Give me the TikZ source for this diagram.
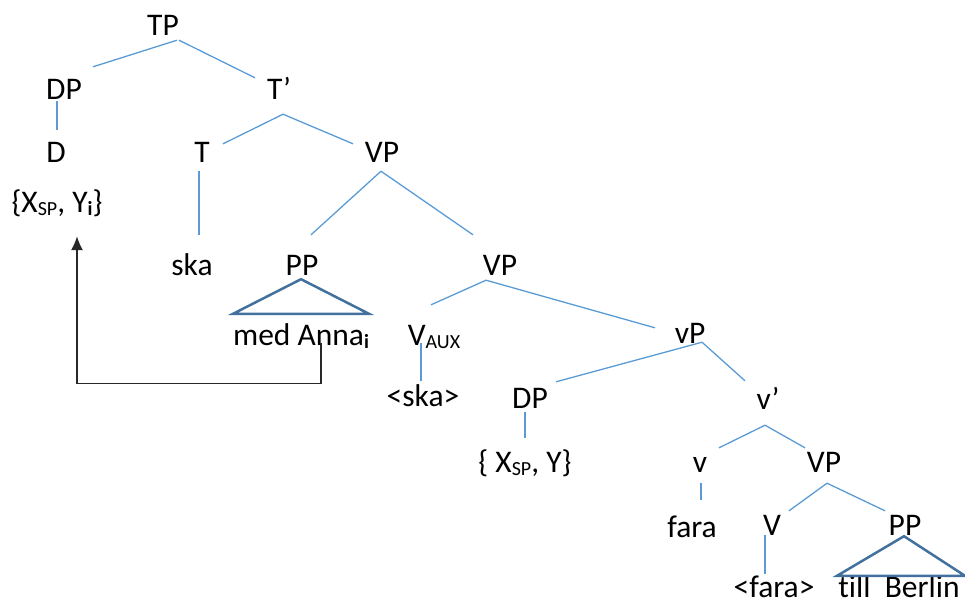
\documentclass[tikz,border=0pt]{standalone}
\usepackage{fontspec}
\setmainfont{Carlito}[Ligatures=NoCommon]
\usepackage{tikz}
\usetikzlibrary{arrows.meta}
\definecolor{brclr}{RGB}{91,155,213}
\definecolor{triclr}{RGB}{65,113,156}
\definecolor{movclr}{RGB}{40,40,40}
\newcommand{\treefont}{\fontsize{31.5}{36}\selectfont}
\newcommand{\lo}[1]{\raisebox{-0.12em}{\fontsize{20}{21}\selectfont #1}}
\tikzset{ %
  ,>={Latex[length=14pt,width=12pt]}
  ,every node/.style={font=\treefont}
  ,lbl/.style={anchor=base, inner sep=0, text height=20pt, text depth=0pt}
  ,branch/.style={draw=brclr, line width=1.3pt}
  ,tri/.style={draw=triclr, line width=2.5pt, line join=miter}
  ,move/.style={draw=movclr, line width=1.3pt, ->}
}

\begin{document}
\begin{tikzpicture}[x=1pt, y=-1pt]
      \useasboundingbox (0,0) rectangle (965,603);
      \draw 
      node[lbl] (TP) at (163,35) {TP}
      node[lbl] (DP) at (64,99) {DP}
      node[lbl] (Tbar) at (279,99) {T’}
      node[lbl] (D) at (56,162) {D}
      node[lbl] (T) at (202,162) {T}
      node[lbl] (VP) at (382,162) {VP}
      node[lbl] (Dset) at (57,212) {\{X\lo{SP}, Y\lo{\textbf{i}}\}}
      node[lbl] (ska) at (192,275) {ska}
      node[lbl] (PP) at (302,275) {PP}
      node[lbl] (VPb) at (500,275) {VP}
      node[lbl] (Anna) at (301,345) {med Anna\lo{\textbf{i}}}
      node[lbl] (Vaux) at (434,345) {V\lo{AUX}}
      node[lbl] (skab) at (423,406) {<ska>}
      node[lbl] (DPb) at (530,408) {DP}
      node[lbl] (vP) at (690,343) {vP}
      node[lbl] (vbar) at (768,409) {v’}
      node[lbl] (Dsetb) at (525,472) {\{ X\lo{SP}, Y\}}
      node[lbl] (v) at (700,472) {v}
      node[lbl] (VPc) at (824,472) {VP}
      node[lbl] (fara) at (692,537) {fara}
      node[lbl] (V) at (772,535) {V}
      node[lbl] (PPb) at (905,535) {PP}
      node[lbl] (farab) at (774,597) {<fara>}
      node[lbl] (Berlin) at (899,597) {till~~Berlin};
      % branches
      \draw [branch] ([shift={(14,5)}]TP.south) -- ([shift={(29,-12)}]DP.north);
      \draw [branch] ([shift={(16,5)}]TP.south) -- ([shift={(-24,-1)}]Tbar.north);
      \draw [branch] ([shift={(-7,2)}]DP.south) -- ([shift={(1,-12)}]D.north);
      \draw [branch] ([shift={(4,15)}]Tbar.south) -- ([shift={(21,2)}]T.north);
      \draw [branch] ([shift={(4,15)}]Tbar.south) -- ([shift={(-29,2)}]VP.north);
      \draw [branch] ([shift={(-3,9)}]T.south) -- ([shift={(7,-20)}]ska.north);
      \draw [branch] ([shift={(-1,9)}]VP.south) -- ([shift={(9,-20)}]PP.north);
      \draw [branch] ([shift={(-1,9)}]VP.south) -- ([shift={(-27,-20)}]VPb.north);
      \draw [branch] ([shift={(-14,5)}]VPb.south) -- ([shift={(-3,-20)}]Vaux.north);
      \draw [branch] ([shift={(-14,5)}]VPb.south) -- ([shift={(-35,5)}]vP.north);
      \draw [branch] ([shift={(-13,-2)}]Vaux.south) -- ([shift={(-2,-5)}]skab.north);
      \draw [branch] ([shift={(12,-1)}]vP.south) -- ([shift={(26,-6)}]DPb.north);
      \draw [branch] ([shift={(12,-1)}]vP.south) -- ([shift={(-23,-8)}]vbar.north);
      \draw [branch] ([shift={(-5,4)}]DPb.south) -- ([shift={(0,-14)}]Dsetb.north);
      \draw [branch] ([shift={(-3,16)}]vbar.south) -- ([shift={(19,-4)}]v.north);
      \draw [branch] ([shift={(-3,16)}]vbar.south) -- ([shift={(-19,-4)}]VPc.north);
      \draw [branch] ([shift={(1,11)}]v.south) -- ([shift={(9,-17)}]fara.north);
      \draw [branch] ([shift={(3,11)}]VPc.south) -- ([shift={(17,-4)}]V.north);
      \draw [branch] ([shift={(3,11)}]VPc.south) -- ([shift={(-20,-4)}]PPb.north);
      \draw [branch] ([shift={(-7,0)}]V.south) -- ([shift={(-9,-3)}]farab.north);
      % triangles
      \draw [tri] ([shift={(-1,4)}]PP.south) -- ([shift={(68,-11)}]Anna.north)
        -- ([shift={(-68,-11)}]Anna.north) -- cycle;
      \draw [tri] ([shift={(-1,1)}]PPb.south) -- ([shift={(66,-1)}]Berlin.north)
        -- ([shift={(-62,-1)}]Berlin.north) -- cycle;
      % movement
      \draw [move] ([shift={(20,-2)}]Anna.south) -- ++(0,40) -| ([shift={(20,24)}]Dset.south);
    \end{tikzpicture}
\end{document}
